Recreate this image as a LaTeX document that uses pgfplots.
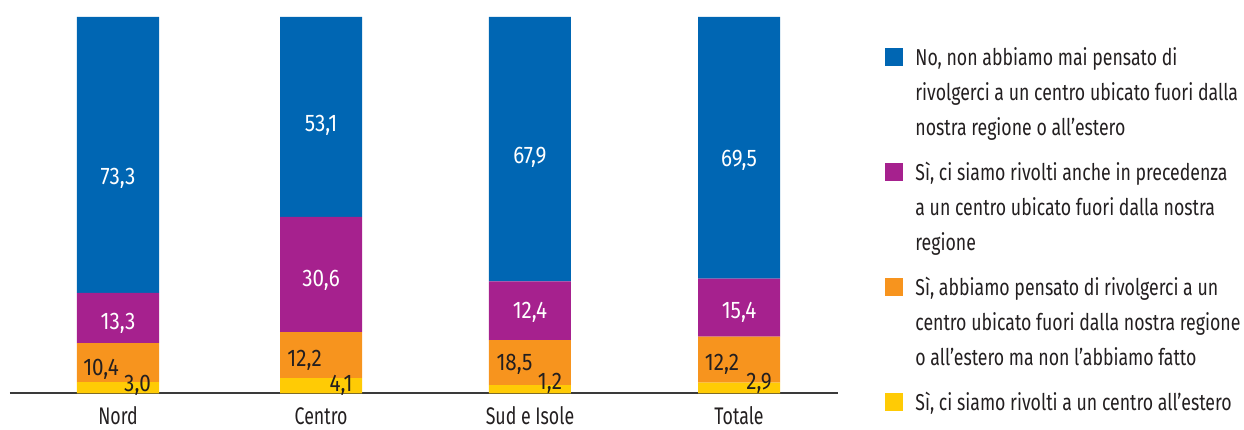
\documentclass[border=0pt]{standalone}
\usepackage{pgfplots}
\pgfplotsset{compat=1.18}
\usepackage{pgfplotstable}
\usepackage{fontspec}
\setmainfont{Fira Sans}[FakeStretch=0.74]
\newfontfamily\legfont{Fira Sans}[FakeStretch=0.77]
\newfontfamily\valfont{Fira Sans}[FakeStretch=0.86]
\definecolor{cblue}{HTML}{0066B3}
\definecolor{cpurple}{HTML}{A6218E}
\definecolor{corange}{HTML}{F7941E}
\definecolor{cyellow}{HTML}{FFCB05}
\definecolor{ctext}{HTML}{231F20}
\definecolor{caxis}{HTML}{3A3A3A}

\pgfplotstableread{
x yellow orange purple blue
0 3.0 10.4 13.3 73.3
0.981 4.1 12.2 30.6 53.1
1.99 2.2 12.0 15.6 70.2
3 2.9 12.2 15.4 69.5
}\data

\newcommand{\vfont}{\valfont\fontsize{12}{13}\selectfont}
\newcommand{\lfont}{\legfont\fontsize{11.5}{13}\selectfont}
% label coordinate inside the axis
\newcommand{\lc}[3]{\coordinate (#1) at (axis cs:#2,#3);}
% label text after the axis
\newcommand{\lab}[4]{\node[anchor=base, inner sep=0pt, text=#3, font=\vfont, xshift=#4] at (#1) {#2};}

\begin{document}
\begin{tikzpicture}
\path[use as bounding box] (-5pt,-17.75pt) rectangle (617pt,196.75pt);
\begin{axis}[
  at={(0pt,0pt)}, anchor=south west,
  scale only axis, width=414pt, height=188.25pt,
  xmin=-0.5217, xmax=3.478, ymin=0, ymax=100,
  ybar stacked, bar width=41pt,
  axis line style={draw=none},
  ytick=\empty,
  xtick=data,
  xticklabels={Nord,Centro,Sud e Isole,Totale},
  major tick length=0pt,
  xticklabel style={anchor=base, inner sep=0pt, text depth=0pt, yshift=-15.5pt, text=ctext, font=\fontsize{12}{14}\selectfont},
  clip=false,
]
\addplot[fill=cyellow, draw=none] table[x=x,y=yellow]{\data};
\addplot[fill=corange, draw=none] table[x=x,y=orange]{\data};
\addplot[fill=cpurple, draw=none] table[x=x,y=purple]{\data};
\addplot[fill=cblue, draw=none] table[x=x,y=blue]{\data};
\draw[caxis, line width=1pt] (axis cs:-0.5217,0) -- (axis cs:3.478,0);
\lc{a1}{0}{55.38}\lc{a2}{0}{16.87}\lc{a3}{0}{4.91}\lc{a4}{0}{0.66}
\lc{b1}{0.981}{69.46}\lc{b2}{0.981}{28.29}\lc{b3}{0.981}{7.04}\lc{b4}{0.981}{0.66}
\lc{c1}{1.99}{61.22}\lc{c2}{1.99}{20.05}\lc{c3}{1.99}{6.24}\lc{c4}{1.99}{0.93}
\lc{d1}{3}{60.16}\lc{d2}{3}{20.05}\lc{d3}{3}{5.98}\lc{d4}{3}{0.93}
\end{axis}
% value labels
\lab{a1}{73,3}{white}{0pt}
\lab{a2}{13,3}{white}{0pt}
\lab{a3}{10,4}{ctext}{-8.5pt}
\lab{a4}{3,0}{ctext}{9.75pt}
\lab{b1}{53,1}{white}{0pt}
\lab{b2}{30,6}{white}{0pt}
\lab{b3}{12,2}{ctext}{-8.25pt}
\lab{b4}{4,1}{ctext}{10pt}
\lab{c1}{67,9}{white}{0pt}
\lab{c2}{12,4}{white}{0pt}
\lab{c3}{18,5}{ctext}{-7.75pt}
\lab{c4}{1,2}{ctext}{10pt}
\lab{d1}{69,5}{white}{0pt}
\lab{d2}{15,4}{white}{0pt}
\lab{d3}{12,2}{ctext}{-8.5pt}
\lab{d4}{2,9}{ctext}{10pt}
% legend
\fill[cblue]   (437.5pt,163.5pt) rectangle ++(9pt,9pt);
\fill[cpurple] (437.5pt,106pt) rectangle ++(9pt,9pt);
\fill[corange] (437.5pt,48.5pt) rectangle ++(9pt,9pt);
\fill[cyellow] (437.5pt,-9pt) rectangle ++(9pt,9pt);
\begin{scope}[every node/.style={anchor=base west, inner sep=0pt, text=ctext, font=\lfont}]
\node at (452.5pt,163.75pt) {No, non abbiamo mai pensato di};
\node at (452.5pt,146.25pt) {rivolgerci a un centro ubicato fuori dalla};
\node at (452.5pt,128.75pt) {nostra regione o all’estero};
\node at (452.5pt,106.25pt) {Sì, ci siamo rivolti anche in precedenza};
\node at (452.5pt,88.75pt) {a un centro ubicato fuori dalla nostra};
\node at (452.5pt,71.25pt) {regione};
\node at (452.5pt,48.75pt) {Sì, abbiamo pensato di rivolgerci a un};
\node at (452.5pt,31.25pt) {centro ubicato fuori dalla nostra regione};
\node at (452.5pt,13.75pt) {o all’estero ma non l’abbiamo fatto};
\node at (452.5pt,-8.75pt) {Sì, ci siamo rivolti a un centro all’estero};
\end{scope}
\end{tikzpicture}
\end{document}
